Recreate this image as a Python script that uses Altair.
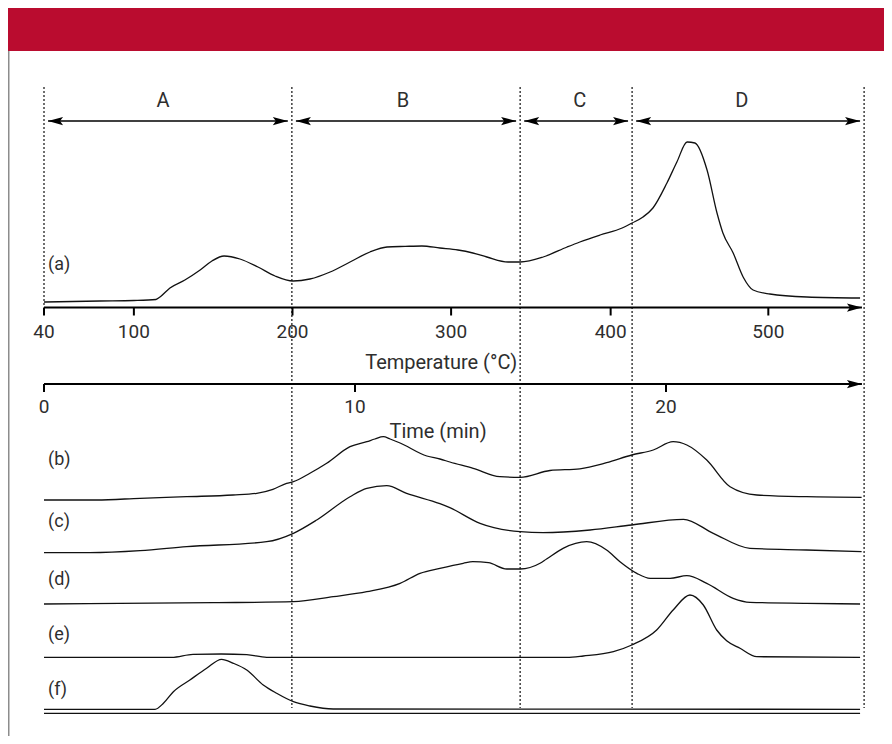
import altair as alt
import pandas as pd

W, H = 876, 728
FONT = "Roboto"
INK = "#2e2e2e"

# ---- traces: time (min) of samples and height of the trace above its own baseline ----
a_t = [0, 1.80, 2.89, 3.60, 3.73, 4.05, 4.53, 5.02, 5.40, 5.79, 6.30, 6.88, 7.43, 8.01, 8.55, 9.20,
       9.84, 10.48, 11.03, 11.61, 12.15, 12.73, 13.31, 13.79, 14.24, 14.92, 15.31, 16.05, 16.82, 17.23,
       17.88, 18.59, 18.91, 19.26, 19.58, 20.03, 20.35, 20.68, 20.93, 21.32, 21.64, 21.83, 22.16, 22.48,
       22.80, 23.34, 24.53, 26.24]
a_h = [0, 1, 1.5, 2.5, 5, 14, 22, 32, 41, 46, 43, 35, 26, 21, 23, 30,
       40, 50, 55, 55.6, 56, 54, 52, 49, 45, 40, 40, 45, 55, 60,
       67, 74, 79, 85, 94, 119, 140, 160, 159, 132, 89, 69, 49, 25,
       12, 8, 5, 4]

b_t = [0, 1.69, 3.09, 4.59, 6.08, 6.84, 7.36, 7.80, 8.02, 8.55, 9.09, 9.84, 10.38, 10.64, 10.91,
       11.13, 11.45, 12.31, 12.73, 13.05, 13.80, 14.66, 15.31, 16.27, 17.23, 18.09, 18.90, 19.59,
       20.23, 20.67, 21.31, 22.06, 22.92, 24.52, 26.29]
b_h = [0, 0, 1.7, 3.3, 5, 6.7, 10.7, 16.7, 18.3, 26.7, 36.7, 53.3, 58.3, 61, 63.3,
       61, 57, 44, 41, 38, 31.7, 23.3, 22.7, 29.5, 31.2, 37.3, 45, 50,
       58.3, 55, 40, 13.3, 5, 3.3, 2.7]

c_t = [0, 1.48, 3.09, 4.59, 7.16, 8.02, 8.77, 9.84, 10.38, 11.02, 11.66, 12.73, 13.05, 14.02,
       15.31, 16.05, 17.56, 18.90, 20.56, 21.52, 22.70, 24.52, 26.29]
c_h = [0, 0, 2, 6, 11, 19.4, 32.7, 56, 64.4, 67, 59.4, 49, 45, 29.4,
       21, 20, 22.7, 27.7, 33.4, 19.4, 4.4, 2.7, 1]

d_t = [0, 5.44, 8.02, 9.30, 10.38, 11.45, 12.09, 12.73, 13.48, 13.79, 14.29, 14.88, 15.31, 15.95,
       16.16, 16.69, 17.45, 18.09, 18.52, 19.06, 19.49, 20.13, 20.67, 21.31, 22.16, 22.70, 24.52, 26.24]
d_h = [0, 1.3, 2.3, 7.3, 12.3, 20.7, 30.7, 35.7, 40.7, 42.3, 41.3, 35, 35, 40.7,
       45, 55.7, 62.3, 54, 42.3, 30.7, 25.7, 25.7, 28.3, 20.7, 5.7, 1.7, 0.7, 0]

e_t = [0, 4.11, 4.79, 5.70, 6.52, 7.16, 16.81, 17.34, 18.31, 18.90, 19.70, 20.23, 20.77, 21.20,
       21.63, 21.95, 22.38, 22.92, 26.24]
e_h = [0, 0, 3, 3.3, 2.6, 0, 0, 1.3, 5.6, 12.3, 27.3, 47.3, 62.3, 52.3,
       27.3, 16.6, 9, 0.6, 0]

f_t = [0, 3.57, 3.84, 4.16, 4.69, 5.23, 5.71, 6.09, 6.52, 7.05, 7.48, 8.02, 8.55, 9.30, 26.24]
f_h = [0, 0, 6, 17.6, 29.3, 41, 50, 46, 39.3, 24.3, 16, 7.6, 3.3, 0.3, 0]

series_names = ["(a)", "(b)", "(c)", "(d)", "(e)", "(f)"]
baselines = [434, 236, 183.3, 132, 78.7, 26.7]
label_y = [471, 276, 214.3, 156, 101, 46]
label_t = 0.13
double_line_y = 22.7

# ---- regions ----
region_names = ["A", "B", "C", "D"]
boundary_t = [0, 7.97, 15.31, 18.91, 26.37]
boundary_bottom = [430, 28, 28, 28, 28]
boundary_top = 649
region_label_t = [3.83, 11.54, 17.23, 22.44]
region_label_y = 635
arrow_y = 615
arrow_gap = 0.13

# ---- axes ----
temp_labels = ["40", "100", "200", "300", "400", "500"]
temp_tick_t = [0, 2.89, 7.99, 13.09, 18.22, 23.29]
temp_axis_y = 428.5
time_labels = ["0", "10", "20"]
time_tick_t = [0, 10, 20]
time_axis_y = 352
axis_end_t = 26.3

xs = alt.Scale(domain=[0, 26.4], range=[36, 36 + 26.4 * 31.1])
ys = alt.Scale(domain=[0, H], range=[H, 0])


def X(f):
    return alt.X(f, type="quantitative", scale=xs, axis=None)


def Y(f):
    return alt.Y(f, type="quantitative", scale=ys, axis=None)


# curves table
rows = []
for name, ts, hs, base in zip(series_names, [a_t, b_t, c_t, d_t, e_t, f_t],
                              [a_h, b_h, c_h, d_h, e_h, f_h], baselines):
    for t, h in zip(ts, hs):
        rows.append({"series": name, "t": t, "y": base + h})
curves_df = pd.DataFrame(rows)

one = pd.DataFrame({"k": [0]})

band = alt.Chart(one).mark_rect(color="#BA0C2F").encode(
    x=alt.value(0), x2=alt.value(W), y=alt.value(0), y2=alt.value(43))
border = alt.Chart(one).mark_rule(color="#8c8c8c", strokeWidth=1.5).encode(
    x=alt.value(0.75), y=alt.value(43), y2=alt.value(H))

bdf = pd.DataFrame({"t": boundary_t, "top": [boundary_top] * 5, "bottom": boundary_bottom})
dashed = alt.Chart(bdf).mark_rule(strokeDash=[2, 2], strokeWidth=1.3, color="#222").encode(
    x=X("t"), y=Y("top"), y2=alt.Y2("bottom"))

rdf = pd.DataFrame({
    "name": region_names,
    "s": [b + arrow_gap for b in boundary_t[:-1]],
    "e": [b - arrow_gap for b in boundary_t[1:]],
    "ly": [region_label_y] * 4,
    "ay": [arrow_y] * 4,
    "lt": region_label_t,
})
shafts = alt.Chart(rdf).mark_rule(color="black", strokeWidth=1.5).encode(
    x=X("s"), x2=alt.X2("e"), y=Y("ay"))
LEFT = "M0,0L2,-0.55L1.6,0L2,0.55Z"
RIGHT = "M0,0L-2,-0.55L-1.6,0L-2,0.55Z"
heads_l = alt.Chart(rdf).mark_point(shape=LEFT, filled=True, size=225, color="black",
                                    opacity=1, strokeWidth=0).encode(x=X("s"), y=Y("ay"))
heads_r = alt.Chart(rdf).mark_point(shape=RIGHT, filled=True, size=225, color="black",
                                    opacity=1, strokeWidth=0).encode(x=X("e"), y=Y("ay"))
rlabels = alt.Chart(rdf).mark_text(font=FONT, fontSize=20, color=INK, baseline="middle").encode(
    x=X("lt"), y=Y("ly"), text="name:N")

axdf = pd.DataFrame({"s": [0, 0], "e": [axis_end_t, axis_end_t], "y": [temp_axis_y, time_axis_y]})
axlines = alt.Chart(axdf).mark_rule(color="black", strokeWidth=2).encode(
    x=X("s"), x2=alt.X2("e"), y=Y("y"))
axheads = alt.Chart(axdf).mark_point(shape=RIGHT, filled=True, size=225, color="black",
                                     opacity=1, strokeWidth=0).encode(x=X("e"), y=Y("y"))

tdf = pd.DataFrame({"t": temp_tick_t, "lab": temp_labels,
                    "y": [temp_axis_y] * 6, "y2": [temp_axis_y - 8] * 6, "ly": [temp_axis_y - 24.2] * 6})
tticks = alt.Chart(tdf).mark_rule(color="black", strokeWidth=2).encode(x=X("t"), y=Y("y"), y2=alt.Y2("y2"))
tlabs = alt.Chart(tdf).mark_text(font=FONT, fontSize=19, color=INK, baseline="middle").encode(
    x=X("t"), y=Y("ly"), text="lab:N")

mdf = pd.DataFrame({"t": time_tick_t, "lab": time_labels,
                    "y": [time_axis_y] * 3, "y2": [time_axis_y - 8] * 3, "ly": [time_axis_y - 23] * 3})
mticks = alt.Chart(mdf).mark_rule(color="black", strokeWidth=2).encode(x=X("t"), y=Y("y"), y2=alt.Y2("y2"))
mlabs = alt.Chart(mdf).mark_text(font=FONT, fontSize=19, color=INK, baseline="middle").encode(
    x=X("t"), y=Y("ly"), text="lab:N")

titles_df = pd.DataFrame({"t": [12.77, 12.67], "y": [373.3, 304.3],
                          "txt": ["Temperature (°C)", "Time (min)"]})
titles = alt.Chart(titles_df).mark_text(font=FONT, fontSize=20, color=INK, baseline="middle").encode(
    x=X("t"), y=Y("y"), text="txt:N")

curves = alt.Chart(curves_df).mark_line(color="#111", strokeWidth=1.3, interpolate="monotone").encode(
    x=X("t"), y=Y("y"), detail="series:N")

ldf = pd.DataFrame({"t": [label_t] * 6, "y": label_y, "txt": series_names})
clabels = alt.Chart(ldf).mark_text(font=FONT, fontSize=18, color=INK, align="left", baseline="middle").encode(
    x=X("t"), y=Y("y"), text="txt:N")

ddf = pd.DataFrame({"s": [0], "e": [26.24], "y": [double_line_y]})
dline = alt.Chart(ddf).mark_rule(color="#111", strokeWidth=1.3).encode(x=X("s"), x2=alt.X2("e"), y=Y("y"))

chart = alt.layer(
    band, border, dashed, shafts, heads_l, heads_r, rlabels,
    axlines, axheads, tticks, tlabs, mticks, mlabs, titles,
    curves, clabels, dline,
).properties(width=W, height=H, padding=0, autosize="none").configure_view(stroke=None)

chart.save("out.html", embed_options={"renderer": "svg", "actions": False})
